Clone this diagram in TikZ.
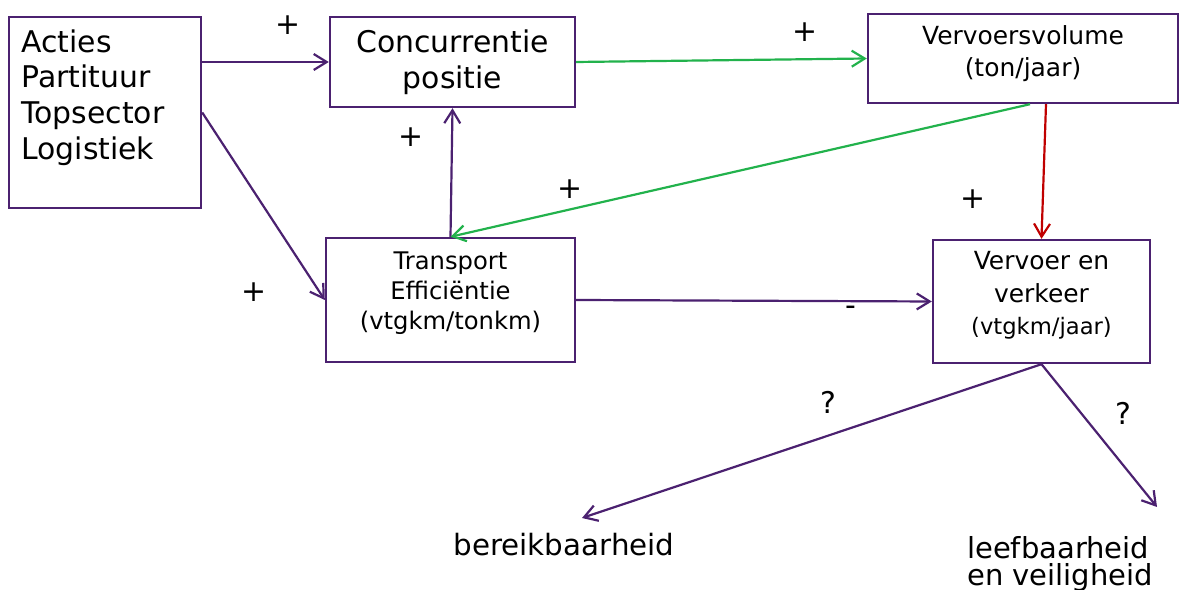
\documentclass[tikz,border=0pt]{standalone}
\usepackage{fontspec}
\setmainfont{DejaVu Sans}
\usetikzlibrary{arrows.meta,positioning}
\definecolor{paars}{HTML}{4B2170}
\definecolor{groen}{HTML}{22B24C}
\definecolor{rood}{HTML}{C00000}
\newcommand{\omlaag}[1]{\rule[-#1]{0pt}{0pt}}
\tikzset{
  box/.style={draw=paars, line width=1.4pt, align=center, inner sep=0pt},
  pijl/.style={line width=1.25pt, -{Straight Barb[length=2.6mm,width=3.2mm]}},
  groot/.style={font=\fontsize{17}{20.4}\selectfont},
  middel/.style={font=\fontsize{14.2}{18.7}\selectfont},
  klein/.style={font=\fontsize{13.8}{17}\selectfont},
}

\begin{document}
\begin{tikzpicture}[x=0.02cm, y=-0.02cm]
\useasboundingbox (0,0) rectangle (1180,590);
% boxes
\node [box, minimum width=3.84cm, minimum height=3.82cm] (acties) at (105,112.5) {};
\node [groot, anchor=north west, align=left, inner sep=0pt] (actiestekst) at (21,29) {Acties\\Partituur\\Topsector\\Logistiek};
\node [box, groot, minimum width=4.9cm, minimum height=1.8cm] (conc) at (452.5,62) {Concurrentie\\positie};
\node [box, middel, minimum width=6.2cm, minimum height=1.78cm] (volume) at (1023,58.5) {Vervoersvolume\\(ton/jaar)\omlaag{0.3cm}};
\node [box, klein, minimum width=4.98cm, minimum height=2.48cm] (eff) at (450.5,300) {Transport\\Efficiëntie\\(vtgkm/tonkm)\omlaag{0.36cm}};
\node [box, middel, minimum width=4.34cm, minimum height=2.46cm] (verkeer) at (1041.5,301.5) {Vervoer en\\verkeer\\{\fontsize{12.9}{17}\selectfont(vtgkm/jaar)}\omlaag{0.34cm}};
\node [font=\fontsize{16.7}{20}\selectfont] (bereik) at (564,545) {bereikbaarheid};
\node [align=left, font=\fontsize{16.5}{15.4}\selectfont] (leef) at (1060,564) {leefbaarheid\\en veiligheid};
\coordinate (bpunt) at (582,518);
\coordinate (lpunt) at (1157,507);

% connectors
\draw [pijl, paars] (acties.east |- conc.west) -- (conc.west);
\draw [pijl, paars] (acties.east) -- (eff.west);
\draw [pijl, paars] (eff.north) -- (conc.south);
\draw [pijl, groen] (conc.east) -- (volume.west);
\draw [pijl, groen] ([xshift=0.14cm]volume.south) -- (eff.north);
\draw [pijl, rood] ([xshift=0.46cm]volume.south) -- (verkeer.north);
\draw [pijl, paars] (eff.east) -- (verkeer.west);
\draw [pijl, paars] (verkeer.south) -- (bpunt);
\draw [pijl, paars] (verkeer.south) -- (lpunt);

% signs
\node [groot] (p1) at (288,25) {+};
\node [groot] (p2) at (254,292) {+};
\node [groot] (p3) at (411,137) {+};
\node [groot] (p4) at (805,32) {+};
\node [groot] (p5) at (570,189) {+};
\node [groot] (p6) at (973,199) {+};
\node [groot] (min) at (851,311) {-};
\node [groot] (q1) at (828,402) {?};
\node [groot] (q2) at (1123,413) {?};
\end{tikzpicture}
\end{document}
